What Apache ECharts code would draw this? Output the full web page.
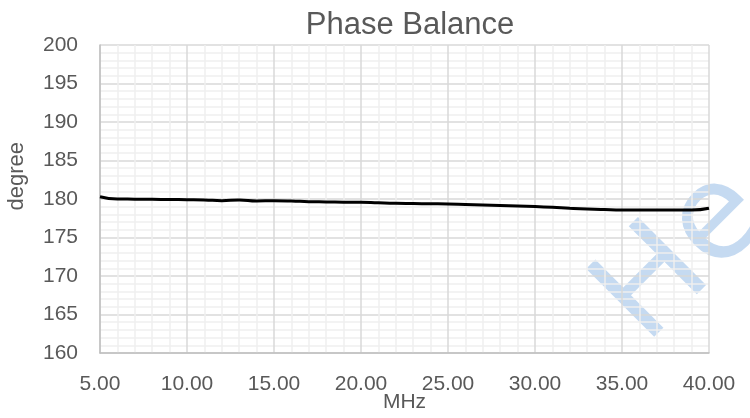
<!DOCTYPE html>
<html>
<head>
<meta charset="utf-8">
<script src="https://cdn.jsdelivr.net/npm/echarts@6/dist/echarts.min.js"></script>
<style>
  html, body { margin: 0; padding: 0; background: #fff; }
  #chart { width: 750px; height: 418px; }
</style>
</head>
<body>
<div id="chart"></div>
<script>
// 频率 MHz
var freqs = [5, 6, 7, 8, 9, 10, 11, 12, 13, 14, 15, 16, 17, 18, 19, 20, 21, 22,
  23, 24, 25, 26, 27, 28, 29, 30, 31, 32, 33, 34, 35, 36, 37, 38, 39, 40];
// 相位平衡 degree
var phase = [180.3, 180.0, 179.98, 179.96, 179.93, 179.91, 179.88, 179.78, 179.87, 179.74,
  179.78, 179.74, 179.65, 179.62, 179.59, 179.57, 179.5, 179.44, 179.41, 179.38,
  179.35, 179.29, 179.23, 179.17, 179.1, 179.02, 178.92, 178.8, 178.7, 178.63,
  178.58, 178.57, 178.57, 178.58, 178.56, 178.8];
var yTicks = [160, 165, 170, 175, 180, 185, 190, 195, 200];

var chart = echarts.init(document.getElementById('chart'));
var font = 'Liberation Sans';
var textColor = '#595959';

var points = [];
freqs.forEach(function (f, i) {
  points.push([f, phase[i]]);
});

var option = {
  animation: false,
  title: {
    text: 'Phase Balance',
    left: 405,
    textAlign: 'center',
    top: 5,
    textStyle: { fontFamily: font, fontSize: 31, fontWeight: 'normal', color: textColor }
  },
  grid: { left: 100, right: 41, top: 45, bottom: 65, outerBoundsMode: 'none', containLabel: false },
  xAxis: {
    type: 'value',
    min: 5,
    max: 40,
    interval: 5,
    name: 'MHz',
    nameLocation: 'middle',
    nameGap: 39,
    nameMoveOverlap: false,
    nameTextStyle: { fontFamily: font, fontSize: 21, color: textColor },
    axisLine: { lineStyle: { color: '#bfbfbf', width: 1.5 } },
    axisTick: { show: false },
    axisLabel: {
      fontFamily: font, fontSize: 21, color: textColor, margin: 21,
      formatter: function (v) { return v.toFixed(2); }
    },
    splitLine: { lineStyle: { color: '#d9d9d9', width: 1.5 } },
    minorTick: { show: false, splitNumber: 5 },
    minorSplitLine: { show: true, lineStyle: { color: '#f0f0f0', width: 1.5 } }
  },
  yAxis: {
    type: 'value',
    min: yTicks[0],
    max: yTicks[yTicks.length - 1],
    interval: 5,
    axisLine: { show: true, lineStyle: { color: '#bfbfbf', width: 1.5 } },
    axisTick: { show: false },
    axisLabel: { fontFamily: font, fontSize: 21, color: textColor, margin: 22 },
    splitLine: { lineStyle: { color: '#d9d9d9', width: 1.5 } },
    minorTick: { show: false, splitNumber: 5 },
    minorSplitLine: { show: true, lineStyle: { color: '#f0f0f0', width: 1.5 } }
  },
  graphic: [
    {
      type: 'text',
      left: 6,
      top: 142,
      rotation: Math.PI / 2,
      style: { text: 'degree', fontFamily: font, fontSize: 22, fill: textColor }
    },
    {
      // 水印
      type: 'text',
      x: 574,
      y: 275,
      rotation: Math.PI / 4,
      silent: true,
      z: -1,
      style: {
        text: 'He', fontFamily: 'DejaVu Sans', fontSize: 132,
        fill: 'rgba(150,188,230,0.55)'
      }
    }
  ],
  series: [{
    type: 'line',
    data: points,
    showSymbol: false,
    smooth: true,
    lineStyle: { color: '#000', width: 3 },
    z: 5
  }]
};
chart.setOption(option);
</script>
</body>
</html>
